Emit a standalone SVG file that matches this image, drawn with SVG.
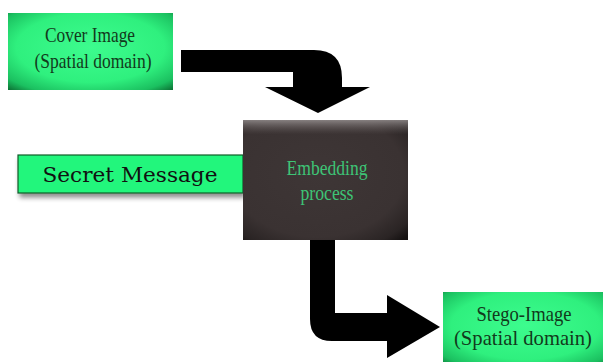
<svg xmlns="http://www.w3.org/2000/svg" width="603" height="362" viewBox="0 0 603 362">
<defs>
<radialGradient id="gGreen" cx="0.5" cy="0.45" r="0.75">
<stop offset="0" stop-color="#3dfc8e"/>
<stop offset="0.6" stop-color="#2ff07e"/>
<stop offset="0.85" stop-color="#1bc060"/>
<stop offset="1" stop-color="#0a6a30"/>
</radialGradient>
<radialGradient id="gDark" cx="0.45" cy="0.45" r="0.75">
<stop offset="0" stop-color="#3e3636"/>
<stop offset="0.7" stop-color="#3a3232"/>
<stop offset="0.9" stop-color="#2a2424"/>
<stop offset="1" stop-color="#161212"/>
</radialGradient>
<linearGradient id="gTop" x1="0" y1="0" x2="0" y2="1">
<stop offset="0" stop-color="#9a9494" stop-opacity="0.8"/>
<stop offset="0.12" stop-color="#6a6262" stop-opacity="0"/>
<stop offset="1" stop-color="#000" stop-opacity="0"/>
</linearGradient>
<filter id="shadow" x="-10%" y="-10%" width="125%" height="140%">
<feGaussianBlur in="SourceAlpha" stdDeviation="2.5"/>
<feOffset dx="2" dy="4"/>
<feComponentTransfer><feFuncA type="linear" slope="0.45"/></feComponentTransfer>
<feMerge><feMergeNode/><feMergeNode in="SourceGraphic"/></feMerge>
</filter>
</defs>
<style>
.serif{font-family:"Liberation Serif","Times New Roman",serif;}
.lbl{font-size:21px;fill:#123a1c;text-anchor:middle;}
.emb{font-size:21px;fill:#3ec476;text-anchor:middle;}
.arrow{fill:#000;}
</style>
<rect width="603" height="362" fill="#ffffff"/>

<g id="connectors">
<path class="arrow" d="M181,50 L314,50 Q342,50 342,78 L342,87 L370,87 L318,113 L265,87 L293,87 L293,72 L181,72 Z"/>
<path class="arrow" d="M310,240 L335,240 L335,313 L387,313 L387,295 L440,327 L387,358 L387,341 L332,341 Q310,341 310,319 Z"/>
</g>

<g id="cover">
<rect x="8" y="13" width="165" height="77" fill="url(#gGreen)"/>
<text class="serif lbl" x="90" y="42" textLength="90" lengthAdjust="spacingAndGlyphs">Cover Image</text>
<text class="serif lbl" x="93" y="68" textLength="117" lengthAdjust="spacingAndGlyphs">(Spatial domain)</text>
</g>

<g id="secret">
<rect x="18" y="155" width="225" height="38" fill="#24f67c" stroke="#0c5a2a" stroke-width="1.2" filter="url(#shadow)"/>
<text x="130" y="182" font-family="'DejaVu Serif','Liberation Serif',serif" font-size="21" fill="#111" text-anchor="middle" textLength="175" lengthAdjust="spacingAndGlyphs">Secret Message</text>
</g>

<g id="embedding">
<rect x="243" y="120" width="165" height="120" fill="url(#gDark)"/>
<rect x="243" y="120" width="165" height="120" fill="url(#gTop)"/>
<text class="serif emb" x="327" y="175" textLength="81" lengthAdjust="spacingAndGlyphs">Embedding</text>
<text class="serif emb" x="327" y="200" textLength="53" lengthAdjust="spacingAndGlyphs">process</text>
</g>

<g id="stego">
<rect x="443" y="292" width="165" height="75" fill="url(#gGreen)"/>
<text class="serif lbl" x="524" y="321" textLength="95" lengthAdjust="spacingAndGlyphs">Stego-Image</text>
<text class="serif lbl" x="523" y="345" textLength="138" lengthAdjust="spacingAndGlyphs">(Spatial domain)</text>
</g>
</svg>
